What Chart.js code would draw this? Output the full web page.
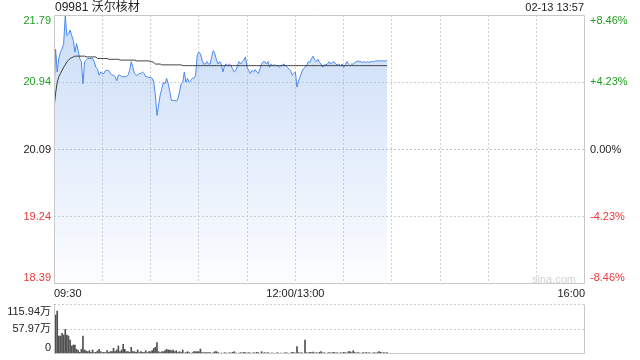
<!DOCTYPE html>
<html>
<head>
<meta charset="utf-8">
<script src="https://cdn.jsdelivr.net/npm/chart.js@4.4.1/dist/chart.umd.min.js"></script>
<style>
  body { margin: 0; width: 640px; height: 360px; background: #fff; position: relative; overflow: hidden;
         font-family: 'Liberation Sans', Arial, 'Noto Sans CJK SC', sans-serif; }
  #title { position: absolute; left: 55px; top: 0; font-size: 12px; line-height: 14px; color: #222; }
  #stamp { position: absolute; right: 56px; top: 0; font-size: 11px; line-height: 14px; color: #222; }
  #mark { position: absolute; left: 532px; top: 272px; font-size: 11px; line-height: 14px; color: #d2d2d2; }
  #price { position: absolute; left: 0; top: 0; }
  #vol { position: absolute; left: 0; top: 300px; }
</style>
</head>
<body>
<canvas id="price" width="640" height="300"></canvas>
<canvas id="vol" width="640" height="60"></canvas>
<div id="title">09981 沃尔核材</div>
<div id="stamp">02-13 13:57</div>
<div id="mark">sina.com</div>
<script>
// minute index 0 = 09:30, 150 = 12:00/13:00, 330 = 16:00
const timeTickPos = [0, 150, 330];
const timeTickText = ['09:30', '12:00/13:00', '16:00'];
const gridMinutes = [0, 30, 60, 90, 120, 150, 180, 210, 240, 270, 300, 330];

const prevClose = 20.09;
const priceTicks = [18.39, 19.24, 20.09, 20.94, 21.79];
const priceTickText = ['18.39', '19.24', '20.09', '20.94', '21.79'];
const pctTicks = [-8.46, -4.23, 0, 4.23, 8.46];
const pctTickText = ['-8.46%', '-4.23%', '0.00%', '+4.23%', '+8.46%'];
const volTicks = [0, 57.97, 115.94];
const volTickText = ['0', '57.97万', '115.94万'];

const prices = [
  20.80, 21.36, 21.07, 21.24, 21.32, 21.36, 21.43, 21.78, 21.53, 21.55,
  21.60, 21.53, 21.47, 21.32, 21.43, 21.34, 21.24, 21.20, 20.92, 21.20,
  21.22, 21.24, 21.24, 21.24, 21.24, 21.20, 21.13, 21.11, 21.03, 21.07,
  21.05, 21.05, 21.09, 21.09, 21.09, 21.05, 21.03, 21.03, 21.01, 20.96,
  21.03, 21.03, 21.01, 21.01, 21.01, 21.01, 21.03, 21.09, 21.20, 21.13,
  21.05, 21.03, 21.03, 21.05, 21.05, 21.07, 21.05, 21.01, 21.01, 21.00,
  21.00, 20.99, 20.94, 20.78, 20.52, 20.65, 20.78, 20.86, 20.94, 20.92,
  20.99, 20.92, 20.82, 20.71, 20.71, 20.71, 20.70, 20.73, 20.82, 20.92,
  20.94, 21.07, 20.94, 20.99, 20.94, 20.96, 20.99, 20.99, 21.03, 21.28,
  21.32, 21.30, 21.22, 21.17, 21.17, 21.20, 21.17, 21.17, 21.26, 21.34,
  21.30, 21.22, 21.17, 21.20, 21.17, 21.07, 21.15, 21.17, 21.15, 21.17,
  21.15, 21.11, 21.07, 21.09, 21.15, 21.20, 21.17, 21.20, 21.22, 21.26,
  21.13, 21.09, 21.05, 21.09, 21.07, 21.10, 21.07, 21.05, 21.11, 21.17,
  21.20, 21.20, 21.17, 21.20, 21.13, 21.17, 21.15, 21.16, 21.15, 21.15,
  21.13, 21.15, 21.16, 21.17, 21.15, 21.13, 21.11, 21.09, 21.03, 21.05,
  21.07, 20.88, 20.96, 21.01, 21.07, 21.11, 21.13, 21.15, 21.20, 21.19,
  21.24, 21.27, 21.22, 21.20, 21.23, 21.19, 21.17, 21.13, 21.16, 21.16,
  21.17, 21.20, 21.17, 21.19, 21.20, 21.17, 21.16, 21.17, 21.15, 21.17,
  21.13, 21.16, 21.20, 21.17, 21.15, 21.17, 21.17, 21.19, 21.20, 21.21,
  21.20, 21.20, 21.19, 21.20, 21.19, 21.20, 21.19, 21.20, 21.20, 21.20,
  21.21, 21.21, 21.21, 21.21, 21.21, 21.21, 21.21, 21.21
];

const avgPrices = [
  20.61, 20.80, 20.94, 21.01, 21.05, 21.09, 21.13, 21.16, 21.20, 21.22,
  21.24, 21.25, 21.26, 21.27, 21.27, 21.27, 21.27, 21.27, 21.27, 21.27,
  21.26, 21.26, 21.26, 21.26, 21.26, 21.26, 21.26, 21.24, 21.24, 21.24,
  21.24, 21.24, 21.24, 21.24, 21.23, 21.23, 21.23, 21.23, 21.23, 21.23,
  21.23, 21.22, 21.22, 21.22, 21.22, 21.22, 21.22, 21.22, 21.22, 21.22,
  21.22, 21.21, 21.21, 21.21, 21.21, 21.21, 21.21, 21.21, 21.21, 21.21,
  21.20, 21.20, 21.19, 21.17, 21.17, 21.17, 21.17, 21.16, 21.16, 21.16,
  21.16, 21.16, 21.16, 21.16, 21.16, 21.16, 21.16, 21.16, 21.16, 21.16,
  21.15, 21.15, 21.15, 21.15, 21.15, 21.15, 21.15, 21.15, 21.15, 21.15,
  21.15, 21.15, 21.15, 21.15, 21.15, 21.15, 21.15, 21.15, 21.15, 21.15,
  21.15, 21.15, 21.15, 21.15, 21.15, 21.15, 21.15, 21.15, 21.15, 21.15,
  21.15, 21.15, 21.15, 21.15, 21.15, 21.15, 21.15, 21.15, 21.15, 21.15,
  21.15, 21.15, 21.15, 21.15, 21.15, 21.15, 21.15, 21.15, 21.15, 21.15,
  21.15, 21.15, 21.15, 21.15, 21.15, 21.15, 21.15, 21.15, 21.15, 21.15,
  21.15, 21.15, 21.15, 21.15, 21.15, 21.15, 21.15, 21.15, 21.15, 21.15,
  21.15, 21.15, 21.15, 21.15, 21.15, 21.15, 21.15, 21.15, 21.15, 21.15,
  21.15, 21.15, 21.15, 21.15, 21.15, 21.15, 21.15, 21.15, 21.15, 21.15,
  21.15, 21.15, 21.15, 21.15, 21.15, 21.15, 21.15, 21.15, 21.15, 21.15,
  21.15, 21.15, 21.15, 21.15, 21.15, 21.15, 21.15, 21.15, 21.15, 21.15,
  21.15, 21.15, 21.15, 21.15, 21.15, 21.15, 21.15, 21.15, 21.15, 21.15,
  21.15, 21.15, 21.15, 21.15, 21.15, 21.15, 21.15, 21.15
];

// volume in 万 shares per minute
const volumes = [
  115.94, 90.4, 99.7, 41.7, 41.7, 47.9, 44.1, 57.2, 44.1, 41.7,
  32.5, 18.6, 20.9, 20.9, 10.8, 7.7, 3.9, 10.8, 41.7, 9.3,
  7.0, 5.4, 7.7, 3.9, 9.3, 3.1, 3.9, 7.0, 10.8, 5.4,
  3.1, 3.9, 3.1, 7.7, 3.9, 5.4, 5.4, 13.1, 5.4, 9.3,
  18.6, 5.4, 9.3, 22.4, 10.8, 5.4, 5.4, 3.9, 15.5, 5.4,
  5.4, 3.9, 9.3, 3.1, 5.4, 3.9, 3.1, 7.7, 3.1, 5.4,
  5.4, 7.7, 13.1, 15.5, 26.3, 5.4, 3.1, 5.4, 5.4, 7.7,
  10.8, 9.3, 9.3, 7.7, 9.3, 5.4, 7.7, 3.1, 5.4, 3.1,
  9.3, 2.3, 3.1, 5.4, 3.1, 1.5, 3.1, 5.4, 5.4, 5.4,
  5.4, 11.6, 3.1, 3.1, 3.1, 3.1, 3.1, 3.1, 1.5, 3.1,
  5.4, 5.4, 3.1, 1.5, 2.3, 1.5, 3.1, 2.3, 1.5, 3.1,
  2.3, 3.9, 5.4, 2.3, 1.5, 2.3, 3.1, 2.3, 3.9, 3.1,
  2.3, 3.1, 2.3, 1.5, 3.1, 2.3, 3.9, 3.1, 1.5, 5.4,
  2.3, 3.1, 2.3, 3.1, 1.5, 2.3, 2.3, 1.5, 2.3, 3.1,
  1.5, 2.3, 1.5, 2.3, 3.1, 2.3, 1.5, 2.3, 3.9, 3.1,
  2.3, 17.0, 3.1, 2.3, 3.1, 1.5, 32.5, 3.1, 2.3, 3.9,
  3.1, 4.6, 2.3, 3.1, 2.3, 3.9, 5.4, 2.3, 3.1, 1.5,
  2.3, 3.1, 2.3, 3.1, 3.9, 2.3, 3.1, 1.5, 3.1, 2.3,
  3.9, 3.1, 2.3, 5.4, 5.4, 3.1, 7.7, 3.1, 2.3, 3.1,
  2.3, 1.5, 3.1, 2.3, 3.1, 2.3, 3.1, 1.5, 2.3, 3.1,
  2.3, 3.1, 5.4, 3.9, 2.3, 3.1, 2.3, 3.1
];

const FONT = "'Liberation Sans', Arial, 'Noto Sans CJK SC', sans-serif";
const GREEN = '#1f9f1f';
const RED = '#e8383a';
const DARK = '#222222';
const GRID = '#cfcfcf';

function sideColor(v, base) {
  if (v > base + 1e-9) return GREEN;
  if (v < base - 1e-9) return RED;
  return DARK;
}

// push first/last labels inward like the original chart
function edgeLabel(text, i, count) {
  if (i === count - 1) return ['', text];
  if (i === 0) return [text, ''];
  return text;
}

// keep the plot area where it is, whatever the edge labels need
function noEdgePadding(axis) {
  axis.paddingTop = 0;
  axis.paddingBottom = 0;
}

const framePlugin = {
  id: 'frame',
  afterDatasetsDraw(chart, args, opts) {
    const { ctx, chartArea: a } = chart;
    const l = a.left + 0.5, r = a.right - 0.5, t = a.top + 0.5, b = a.bottom - 0.5;
    ctx.save();
    ctx.strokeStyle = '#c8c8c8';
    ctx.lineWidth = 1;
    ctx.beginPath();
    if (opts.top !== false) { ctx.moveTo(l, t); ctx.lineTo(r, t); }
    ctx.moveTo(r, t); ctx.lineTo(r, b);
    ctx.lineTo(l, b);
    ctx.lineTo(l, t);
    ctx.stroke();
    ctx.restore();
  }
};

function fillGradient(context) {
  const { ctx, chartArea } = context.chart;
  if (!chartArea) return 'rgba(155,189,239,0.3)';
  const g = ctx.createLinearGradient(0, chartArea.top, 0, chartArea.bottom);
  g.addColorStop(0, 'rgba(150,186,240,0.5)');
  g.addColorStop(1, 'rgba(150,186,240,0.02)');
  return g;
}

new Chart(document.getElementById('price'), {
  type: 'line',
  data: {
    datasets: [
      {
        data: avgPrices.map((v, i) => ({ x: i, y: v })),
        borderColor: '#3a3a3a',
        borderWidth: 1,
        pointRadius: 0,
        tension: 0,
        fill: false
      },
      {
        data: prices.map((v, i) => ({ x: i, y: v })),
        borderColor: '#4a89f0',
        borderWidth: 1,
        pointRadius: 0,
        tension: 0,
        fill: 'start',
        backgroundColor: fillGradient
      }
    ]
  },
  options: {
    responsive: false,
    animation: false,
    layout: { padding: { top: 15, left: 0, right: 0, bottom: 0 } },
    plugins: { legend: { display: false }, tooltip: { enabled: false }, frame: { top: true } },
    scales: {
      x: {
        type: 'linear',
        min: 0,
        max: 330,
        afterBuildTicks: axis => { axis.ticks = gridMinutes.map(v => ({ value: v })); },
        afterFit: axis => { axis.height = 16; },
        grid: {
          drawTicks: false,
          color: c => (c.tick && (c.tick.value === 0 || c.tick.value === 330)) ? 'rgba(0,0,0,0)' : GRID
        },
        border: { display: false, dash: [2, 2] },
        ticks: {
          autoSkip: false,
          maxRotation: 0,
          align: 'inner',
          padding: 3,
          color: DARK,
          font: { size: 11, family: FONT },
          callback: v => {
            const k = timeTickPos.indexOf(v);
            return k < 0 ? '' : timeTickText[k];
          }
        }
      },
      y: {
        position: 'left',
        min: priceTicks[0],
        max: priceTicks[priceTicks.length - 1],
        afterBuildTicks: axis => { axis.ticks = priceTicks.map(v => ({ value: v })); },
        afterFit: axis => { axis.width = 54; noEdgePadding(axis); },
        grid: {
          drawTicks: false,
          color: c => {
            if (!c.tick) return GRID;
            const v = c.tick.value;
            if (v === priceTicks[0] || v === priceTicks[priceTicks.length - 1]) return 'rgba(0,0,0,0)';
            return v === prevClose ? '#c0c0c0' : GRID;
          }
        },
        border: { display: false, dash: [2, 2] },
        ticks: {
          autoSkip: false,
          padding: 3,
          color: c => sideColor(c.tick.value, prevClose),
          font: { size: 11, family: FONT, lineHeight: 1.1 },
          callback: (v, i, arr) => edgeLabel(priceTickText[i], i, arr.length)
        }
      },
      y2: {
        position: 'right',
        min: pctTicks[0],
        max: pctTicks[pctTicks.length - 1],
        afterBuildTicks: axis => { axis.ticks = pctTicks.map(v => ({ value: v })); },
        afterFit: axis => { axis.width = 55; noEdgePadding(axis); },
        grid: { drawOnChartArea: false, drawTicks: false },
        border: { display: false },
        ticks: {
          autoSkip: false,
          padding: 5,
          color: c => sideColor(c.tick.value, 0),
          font: { size: 11, family: FONT, lineHeight: 1.1 },
          callback: (v, i, arr) => edgeLabel(pctTickText[i], i, arr.length)
        }
      }
    }
  },
  plugins: [framePlugin]
});

new Chart(document.getElementById('vol'), {
  type: 'bar',
  data: {
    datasets: [{
      data: volumes.map((v, i) => ({ x: i, y: v })),
      backgroundColor: '#505050',
      borderWidth: 0,
      barThickness: 1
    }]
  },
  options: {
    responsive: false,
    animation: false,
    layout: { padding: { top: 4, left: 0, right: 55, bottom: 6 } },
    plugins: { legend: { display: false }, tooltip: { enabled: false }, frame: { top: false } },
    scales: {
      x: { type: 'linear', min: 0, max: 330, offset: false, display: false },
      y: {
        position: 'left',
        min: 0,
        max: volTicks[volTicks.length - 1],
        afterBuildTicks: axis => { axis.ticks = volTicks.map(v => ({ value: v })); },
        afterFit: axis => { axis.width = 54; noEdgePadding(axis); },
        grid: {
          drawTicks: false,
          color: c => (c.tick && c.tick.value === 0) ? 'rgba(0,0,0,0)' : GRID
        },
        border: { display: false, dash: [2, 2] },
        ticks: {
          autoSkip: false,
          padding: 3,
          color: DARK,
          font: c => ({ size: 11, family: FONT, lineHeight: c.index === volTicks.length - 1 ? 1.45 : 1.1 }),
          callback: (v, i, arr) => edgeLabel(volTickText[i], i, arr.length)
        }
      }
    }
  },
  plugins: [framePlugin]
});
</script>
</body>
</html>
